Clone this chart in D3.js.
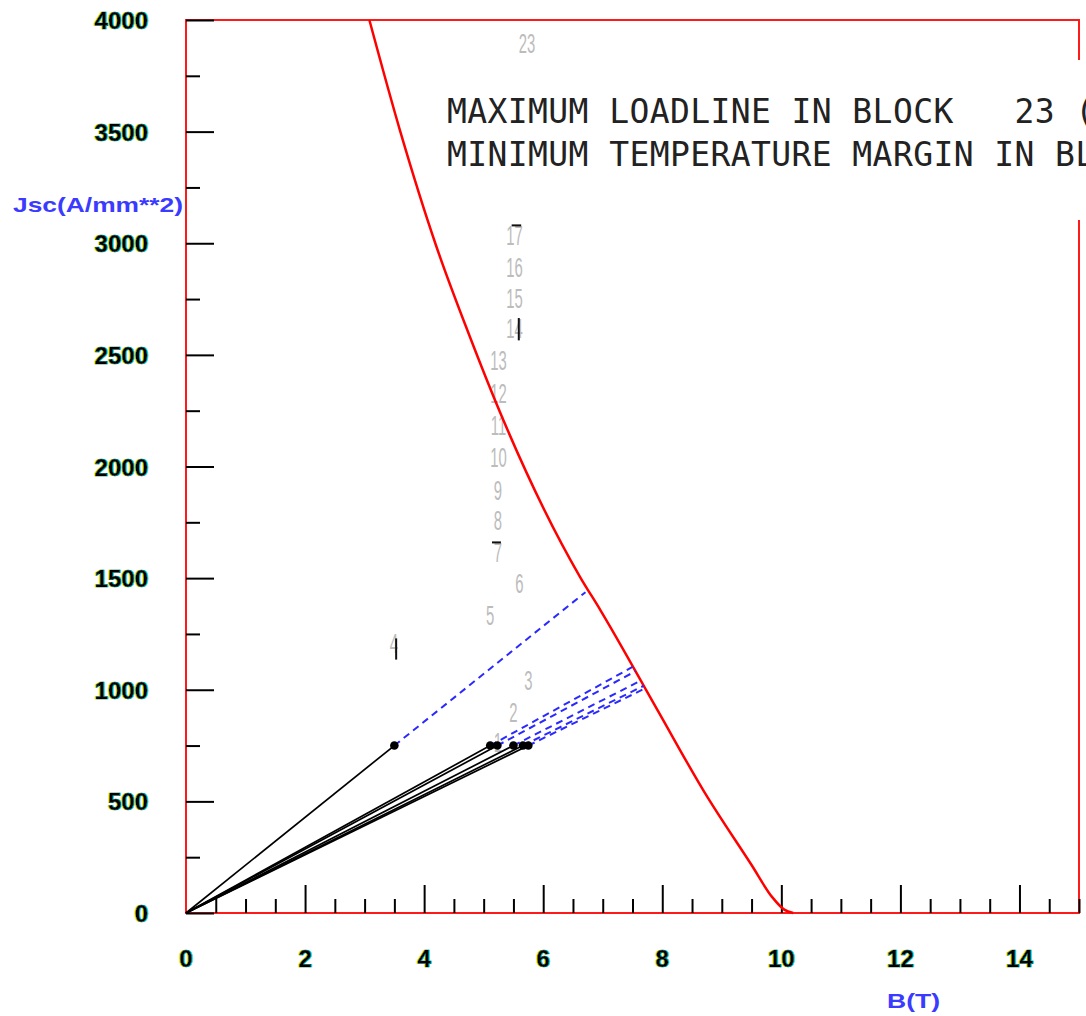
<html>
<head>
<style>
body{margin:0;background:#fff;}
.frame{stroke:#ff1a1a;stroke-width:2;fill:none;}
.tick line{stroke:#000;stroke-width:2;}
.num{font-family:"Liberation Sans",Arial,sans-serif;font-weight:bold;font-size:24px;fill:#000;stroke:#000;stroke-width:0.6px;}
.title{font-family:"Liberation Sans",Arial,sans-serif;font-weight:bold;font-size:21px;fill:#3b3bff;}
.block{font-family:"Liberation Sans",Arial,sans-serif;font-size:27px;fill:#bcbcbc;}
.msg{font-family:"DejaVu Sans Mono",monospace;font-size:33px;letter-spacing:0.4px;fill:#222;white-space:pre;}
</style>
</head>
<body>
<script src="https://d3js.org/d3.v7.min.js"></script>
<script>
// critical surface of the conductor (red curve), B in T, Jsc in A/mm**2
var curveB = [3.08, 3.60, 4.20, 4.77, 5.33, 6.62, 6.96, 7.92, 8.70, 9.50, 9.85, 10.05, 10.2];
var curveJ = [4000, 3500, 2990, 2580, 2208, 1505, 1357, 909, 545, 215, 70, 15, 0];

// operating points of the blocks (black dots)
var pointB = [3.50, 5.11, 5.23, 5.50, 5.66, 5.75];
var pointJ = [750, 750, 750, 750, 750, 750];

// where each loadline reaches the critical surface (blue dashed part)
var endB = [6.71, 7.50, 7.55, 7.64, 7.69, 7.71];
var endJ = [1437, 1102, 1083, 1041, 1018, 1006];

// block numbers written on the plot
var blockNames = ["23", "17", "16", "15", "14", "13", "12", "11", "10", "9", "8", "7", "6", "5", "4", "3", "2", "1"];
var blockB = [5.73, 5.52, 5.52, 5.52, 5.52, 5.25, 5.25, 5.25, 5.25, 5.24, 5.24, 5.24, 5.60, 5.11, 3.49, 5.75, 5.50, 5.24];
var blockJ = [3852, 2992, 2849, 2710, 2576, 2432, 2284, 2141, 1998, 1850, 1716, 1572, 1433, 1290, 1165, 999, 856, 721];

// small black strokes left over on some block numbers
var strokeB1 = [5.47, 5.14, 5.59, 3.53];
var strokeJ1 = [3080, 1660, 2665, 1230];
var strokeB2 = [5.63, 5.29, 5.59, 3.53];
var strokeJ2 = [3080, 1660, 2565, 1135];

var xTicks = [0, 2, 4, 6, 8, 10, 12, 14];
var yTicks = [0, 500, 1000, 1500, 2000, 2500, 3000, 3500, 4000];
var xMinor = d3.range(0.5, 15.01, 0.5).filter(function(d){ return d % 2 != 0; });
var yMinor = [250, 750, 1250, 1750, 2250, 2750, 3250, 3750];

var width = 1086, height = 1016;

var x = d3.scaleLinear().domain([0, 15]).range([186, 1079]);
var y = d3.scaleLinear().domain([0, 4000]).range([913, 20]);

var svg = d3.select("body").append("svg")
    .attr("width", width)
    .attr("height", height)
    .style("display", "block");

//thin yellow / cyan fringe around the tick numbers
var filter = svg.append("defs").append("filter").attr("id", "fringe")
    .attr("x", "-10%").attr("y", "-10%").attr("width", "120%").attr("height", "120%");
filter.append("feFlood").attr("flood-color", "#f2e600").attr("result", "yel");
filter.append("feOffset").attr("in", "SourceAlpha").attr("dx", -1).attr("result", "a1");
filter.append("feComposite").attr("in", "yel").attr("in2", "a1").attr("operator", "in").attr("result", "s1");
filter.append("feFlood").attr("flood-color", "#00d8f0").attr("result", "cya");
filter.append("feOffset").attr("in", "SourceAlpha").attr("dx", 1).attr("result", "a2");
filter.append("feComposite").attr("in", "cya").attr("in2", "a2").attr("operator", "in").attr("result", "s2");
var merge = filter.append("feMerge");
merge.append("feMergeNode").attr("in", "s1");
merge.append("feMergeNode").attr("in", "s2");
merge.append("feMergeNode").attr("in", "SourceGraphic");

svg.append("rect").attr("width", width).attr("height", height).attr("fill", "#fff");

//red frame of the plot
svg.append("rect").attr("class", "frame")
    .attr("x", x(0)).attr("y", y(4000))
    .attr("width", x(15) - x(0)).attr("height", y(0) - y(4000));

//tick marks pointing into the plot
var xMajor = d3.axisBottom(x).tickValues(xTicks.slice(1)).tickSize(-28).tickFormat("");
var xMin = d3.axisBottom(x).tickValues(xMinor).tickSize(-14).tickFormat("");
var yMajor = d3.axisLeft(y).tickValues(yTicks).tickSize(-28).tickFormat("");
var yMin = d3.axisLeft(y).tickValues(yMinor).tickSize(-14).tickFormat("");

[[xMajor, "0," + y(0)], [xMin, "0," + y(0)], [yMajor, x(0) + ",0"], [yMin, x(0) + ",0"]].forEach(function(a){
    var g = svg.append("g").attr("transform", "translate(" + a[1] + ")").call(a[0]);
    g.select(".domain").remove();
});

//tick numbers
svg.append("g").attr("filter", "url(#fringe)")
    .selectAll("text").data(xTicks).enter().append("text")
    .attr("class", "num")
    .attr("x", function(d){ return x(d); })
    .attr("y", 967)
    .attr("text-anchor", "middle")
    .text(function(d){ return d; });
svg.append("g").attr("filter", "url(#fringe)")
    .selectAll("text").data(yTicks).enter().append("text")
    .attr("class", "num")
    .attr("x", 148)
    .attr("y", function(d){ return y(d) + 9; })
    .attr("text-anchor", "end")
    .text(function(d){ return d; });

//axis titles
svg.append("text").attr("class", "title")
    .attr("x", 13).attr("y", 212)
    .attr("textLength", 170).attr("lengthAdjust", "spacingAndGlyphs")
    .text("Jsc(A/mm**2)");
svg.append("text").attr("class", "title")
    .attr("x", 887).attr("y", 1008)
    .attr("textLength", 53).attr("lengthAdjust", "spacingAndGlyphs")
    .text("B(T)");

//block numbers in light grey
svg.append("g").selectAll("text").data(blockNames).enter().append("text")
    .attr("class", "block")
    .attr("text-anchor", "middle")
    .attr("transform", function(d, i){ return "translate(" + x(blockB[i]) + "," + y(blockJ[i]) + ") scale(0.55,1)"; })
    .text(function(d){ return d; });

svg.append("g").selectAll("line").data(strokeB1).enter().append("line")
    .attr("x1", function(d){ return x(d); })
    .attr("y1", function(d, i){ return y(strokeJ1[i]); })
    .attr("x2", function(d, i){ return x(strokeB2[i]); })
    .attr("y2", function(d, i){ return y(strokeJ2[i]); })
    .attr("stroke", "#111").attr("stroke-width", 2);

//critical surface
var line = d3.line()
    .x(function(d){ return x(curveB[d]); })
    .y(function(d){ return y(curveJ[d]); })
    .curve(d3.curveMonotoneX);
svg.append("path")
    .attr("d", line(d3.range(curveB.length)))
    .attr("fill", "none").attr("stroke", "#ff0000").attr("stroke-width", 2.5);

//loadlines: solid up to the operating point, dashed up to the critical surface
svg.append("g").selectAll("line").data(pointB).enter().append("line")
    .attr("x1", function(d, i){ return x(d); })
    .attr("y1", function(d, i){ return y(pointJ[i]); })
    .attr("x2", function(d, i){ return x(endB[i]); })
    .attr("y2", function(d, i){ return y(endJ[i]); })
    .attr("stroke", "#2a2aff").attr("stroke-width", 2)
    .attr("stroke-dasharray", "7,5");

svg.append("g").selectAll("line").data(pointB).enter().append("line")
    .attr("x1", x(0)).attr("y1", y(0))
    .attr("x2", function(d){ return x(d); })
    .attr("y2", function(d, i){ return y(pointJ[i]); })
    .attr("stroke", "#000").attr("stroke-width", 1.7);

svg.append("g").selectAll("circle").data(pointB).enter().append("circle")
    .attr("cx", function(d){ return x(d); })
    .attr("cy", function(d, i){ return y(pointJ[i]); })
    .attr("r", 4.3).attr("fill", "#000");

//message box in the upper right, it hides part of the frame
svg.append("rect").attr("x", 440).attr("y", 60).attr("width", 660).attr("height", 160).attr("fill", "#fff");
svg.append("text").attr("class", "msg").attr("x", 447).attr("y", 123)
    .text("MAXIMUM LOADLINE IN BLOCK   23 (");
svg.append("text").attr("class", "msg").attr("x", 447).attr("y", 166)
    .text("MINIMUM TEMPERATURE MARGIN IN BLOCK");
</script>
</body>
</html>
